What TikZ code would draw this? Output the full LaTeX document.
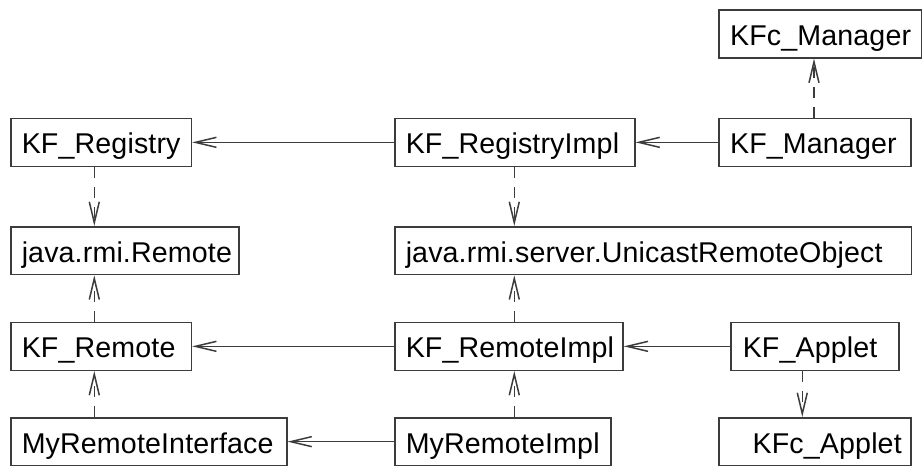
\documentclass[tikz,border=0pt]{standalone}
\usepackage{fontspec}
\setmainfont{Liberation Sans}[LetterSpace=0.5]
\usetikzlibrary{arrows.meta}
\definecolor{linec}{RGB}{60,60,60}
\begin{document}
\begin{tikzpicture}[x=1pt,y=-1pt,
  font=\fontsize{28.6pt}{32pt}\selectfont,
  box/.style={draw=linec, line width=1.5pt, anchor=north west, inner xsep=11pt, inner ysep=0pt,
    text height=35.4pt, text depth=12.4pt, align=left, text=black},
  assoc/.style={draw=linec, line width=1.5pt, -{Straight Barb[length=21pt,width=10pt]}},
  dep/.style={draw=linec, line width=1.5pt, dash pattern=on 11pt off 9pt, -{Straight Barb[length=21pt,width=10pt]}}]
\useasboundingbox (0,0) rectangle (922,466);
% columns for vertical connectors
\coordinate (cL) at (94.3,0);
\coordinate (cM) at (514.3,0);
\coordinate (cR1) at (814,0);
\coordinate (cR2) at (802.3,0);
% nodes
\node[box, text width=180.4pt] (KFcM) at (718.3,9.3) {KFc\_Manager};
\node[box, text width=158.7pt] (KFR) at (10,117.7) {KF\_Registry};
\node[box, text width=218pt] (KFRI) at (394,117.7) {KF\_RegistryImpl};
\node[box, text width=169.7pt] (KFM) at (718.3,117.7) {KF\_Manager};
\node[box, text width=206pt] (JRR) at (10,226) {java.rmi.Remote};
\node[box, text width=494.7pt] (URO) at (394,226) {java.rmi.server.UnicastRemoteObject};
\node[box, text width=158.7pt] (KFRe) at (10,321.7) {KF\_Remote};
\node[box, text width=206.3pt] (KFReI) at (394,321.7) {KF\_RemoteImpl};
\node[box, inner xsep=12pt, text width=144.3pt] (KFA) at (730,321.7) {KF\_Applet};
\node[box, text width=254pt] (MRI) at (10,417) {MyRemoteInterface};
\node[box, text width=194pt] (MRImpl) at (394,417) {MyRemoteImpl};
\node[box, inner xsep=9pt, text width=173.7pt, align=right] (KFcA) at (718.3,417) {KFc\_Applet};
% associations
\draw[assoc] (KFRI.west) -- (KFR.east);
\draw[assoc] (KFM.west) -- (KFRI.east);
\draw[assoc] (KFReI.west) -- (KFRe.east);
\draw[assoc] (KFA.west) -- (KFReI.east);
\draw[assoc] (MRImpl.west) -- (MRI.east);
% dependencies
\draw[dep] (KFR.south -| cL) -- (JRR.north -| cL);
\draw[dep] (KFRI.south -| cM) -- (URO.north -| cM);
\draw[dep] (KFM.north -| cR1) -- (KFcM.south -| cR1);
\draw[dep] (KFRe.north -| cL) -- (JRR.south -| cL);
\draw[dep] (MRI.north -| cL) -- (KFRe.south -| cL);
\draw[dep] (KFReI.north -| cM) -- (URO.south -| cM);
\draw[dep] (MRImpl.north -| cM) -- (KFReI.south -| cM);
\draw[dep] (KFA.south -| cR2) -- (KFcA.north -| cR2);
\end{tikzpicture}
\end{document}
